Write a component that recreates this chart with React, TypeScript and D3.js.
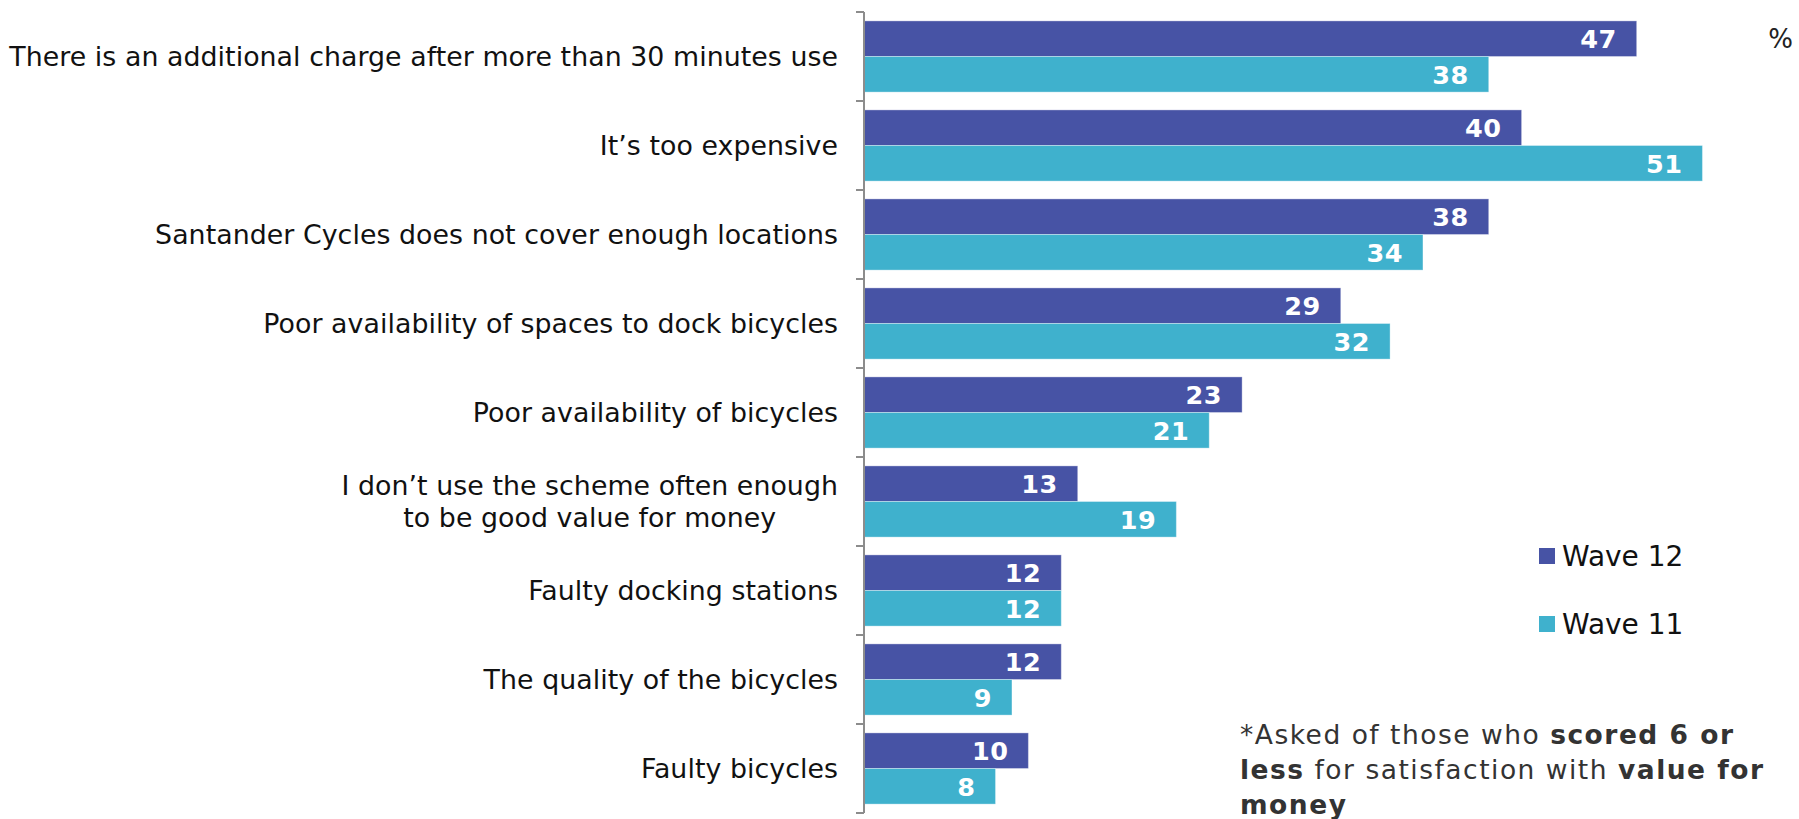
import React, { useEffect, useRef } from "react";
import * as d3 from "d3";

const categories: string[][] = [
  ["There is an additional charge after more than 30 minutes use"],
  ["It\u2019s too expensive"],
  ["Santander Cycles does not cover enough locations"],
  ["Poor availability of spaces to dock bicycles"],
  ["Poor availability of bicycles"],
  ["I don\u2019t use the scheme often enough", "to be good value for money"],
  ["Faulty docking stations"],
  ["The quality of the bicycles"],
  ["Faulty bicycles"],
];
const seriesNames = ["Wave 12", "Wave 11"];
const wave12 = [47, 40, 38, 29, 23, 13, 12, 12, 10];
const wave11 = [38, 51, 34, 32, 21, 19, 12, 9, 8];
const colors = ["#4753A5", "#3FB1CD"];

const W = 1799;
const H = 819;

export default function App() {
  const ref = useRef<SVGSVGElement | null>(null);

  useEffect(() => {
    const svg = d3.select(ref.current);
    svg.selectAll("*").remove();

    const axisX = 864;
    const top = 12;
    const bottom = 813;
    const font = "'DejaVu Sans', Verdana, sans-serif";

    const y = d3
      .scaleBand<number>()
      .domain(d3.range(categories.length))
      .range([top, bottom])
      .paddingInner(0.2)
      .paddingOuter(0.1);
    const step = y.step();
    const sub = d3
      .scaleBand<number>()
      .domain([0, 1])
      .range([0, y.bandwidth()]);
    const x = d3.scaleLinear().domain([0, 60]).range([axisX, axisX + 986.4]);

    const series = [wave12, wave11];

    // bars
    const g = svg.append("g");
    categories.forEach((_, i) => {
      series.forEach((vals, s) => {
        const yy = (y(i) as number) + (sub(s) as number);
        g.append("rect")
          .attr("x", x(0))
          .attr("y", yy)
          .attr("width", x(vals[i]) - x(0))
          .attr("height", sub.bandwidth())
          .attr("fill", colors[s])
          .attr("stroke", "#ffffff")
          .attr("stroke-opacity", 0.35)
          .attr("stroke-width", 1);
        g.append("text")
          .attr("x", x(vals[i]) - 20)
          .attr("y", yy + sub.bandwidth() / 2)
          .attr("dy", "0.38em")
          .attr("text-anchor", "end")
          .attr("font-family", font)
          .attr("font-weight", "bold")
          .attr("font-size", 25.5)
          .attr("letter-spacing", 0.5)
          .attr("fill", "#ffffff")
          .text(String(vals[i]));
      });
    });

    // axis line and ticks
    const ax = svg.append("g");
    ax.append("line")
      .attr("x1", axisX)
      .attr("x2", axisX)
      .attr("y1", top)
      .attr("y2", bottom)
      .attr("stroke", "#8c8c8c")
      .attr("stroke-width", 2);
    d3.range(categories.length + 1).forEach((k) => {
      const ty = top + k * step;
      ax.append("line")
        .attr("x1", axisX - 8)
        .attr("x2", axisX)
        .attr("y1", ty)
        .attr("y2", ty)
        .attr("stroke", "#8c8c8c")
        .attr("stroke-width", 2);
    });

    // category labels
    const lg = svg.append("g");
    categories.forEach((lines, i) => {
      const cy = top + i * step + step / 2;
      const lh = 32;
      const texts = lines.map((ln, j) =>
        lg
          .append("text")
          .attr("y", cy + (j - (lines.length - 1) / 2) * lh)
          .attr("dy", "0.36em")
          .attr("font-family", font)
          .attr("font-size", 26.8)
          .attr("letter-spacing", 0.05)
          .attr("fill", "#111111")
          .text(ln)
      );
      const widths = texts.map((t) => (t.node() as SVGTextElement).getComputedTextLength());
      const maxW = Math.max(...widths);
      const right = axisX - 26;
      texts.forEach((t) => {
        t.attr("x", right - maxW / 2).attr("text-anchor", "middle");
      });
    });

    // percent sign
    svg
      .append("text")
      .attr("x", 1793)
      .attr("y", 48)
      .attr("text-anchor", "end")
      .attr("font-family", font)
      .attr("font-size", 26)
      .attr("fill", "#222222")
      .text("%");

    // legend
    const legY = [548, 616];
    seriesNames.forEach((name, s) => {
      svg
        .append("rect")
        .attr("x", 1539)
        .attr("y", legY[s])
        .attr("width", 16)
        .attr("height", 16)
        .attr("fill", colors[s]);
      svg
        .append("text")
        .attr("x", 1562)
        .attr("y", legY[s] + 18)
        .attr("font-family", font)
        .attr("font-size", 28)
        .attr("fill", "#111111")
        .text(name);
    });

    // footnote
    const foot: [string, boolean][][] = [
      [["*Asked of those who ", false], ["scored 6 or", true]],
      [["less", true], [" for satisfaction with ", false], ["value for", true]],
      [["money", true]],
    ];
    foot.forEach((parts, li) => {
      const t = svg
        .append("text")
        .attr("x", 1240)
        .attr("y", 744 + li * 35)
        .attr("font-family", font)
        .attr("font-size", 26.5)
        .attr("letter-spacing", 1.5)
        .attr("fill", "#333333");
      parts.forEach(([str, bold]) => {
        t.append("tspan")
          .attr("font-weight", bold ? "bold" : "normal")
          .style("white-space", "pre")
          .text(str);
      });
    });
  }, []);

  return (
    <div style={{ position: "absolute", left: 0, top: 0 }}>
      <svg ref={ref} width={W} height={H} style={{ display: "block" }} />
    </div>
  );
}
